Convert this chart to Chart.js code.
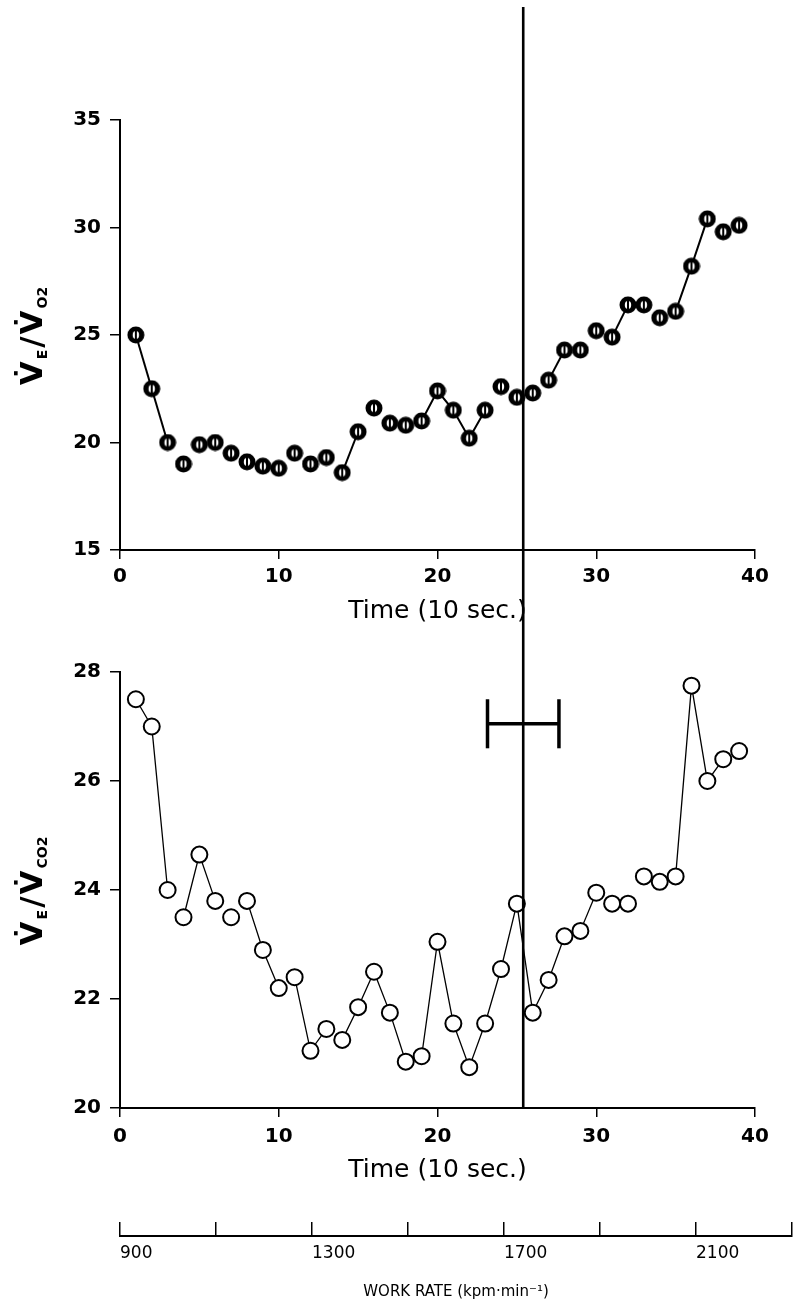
<!DOCTYPE html>
<html>
<head>
<meta charset="utf-8">
<title>VE/VO2 and VE/VCO2</title>
<script src="https://cdn.jsdelivr.net/npm/chart.js@4.4.1/dist/chart.umd.min.js"></script>
<style>
  body { margin: 0; background: #fff; }
  canvas { position: absolute; left: 0; }
  #o2 { top: 0; }
  #co2 { top: 640px; }
  #work { top: 1195px; }
</style>
</head>
<body>
<canvas id="o2" width="799" height="640"></canvas>
<canvas id="co2" width="799" height="560"></canvas>
<canvas id="work" width="799" height="109"></canvas>
<script>
// time in 10 s steps
var times = [1, 2, 3, 4, 5, 6, 7, 8, 9, 10, 11, 12, 13, 14, 15, 16, 17, 18, 19, 20,
             21, 22, 23, 24, 25, 26, 27, 28, 29, 30, 31, 32, 33, 34, 35, 36, 37, 38, 39];

var veVo2 = [25.0, 22.5, 20.0, 19.0, 19.9, 20.0, 19.5, 19.1, 18.9, 18.8,
             19.5, 19.0, 19.3, 18.6, 20.5, 21.6, 20.9, 20.8, 21.0, 22.4,
             21.5, 20.2, 21.5, 22.6, 22.1, 22.3, 22.9, 24.3, 24.3, 25.2,
             24.9, 26.4, 26.4, 25.8, 26.1, 28.2, 30.4, 29.8, 30.1];

var veVco2 = [27.5, 27.0, 24.0, 23.5, 24.65, 23.8, 23.5, 23.8, 22.9, 22.2,
              22.4, 21.05, 21.45, 21.25, 21.85, 22.5, 21.75, 20.85, 20.95, 23.05,
              21.55, 20.75, 21.55, 22.55, 23.75, 21.75, 22.35, 23.15, 23.25, 23.95,
              23.75, 23.75, 24.25, 24.15, 24.25, 27.75, 26.0, 26.4, 26.55];

// which consecutive points are joined by a line (time of first point)
var vo2Joined = [1, 2, 14, 19, 20, 21, 22, 27, 31, 35, 36];
var vco2Gaps = [3, 6, 7, 10, 13, 18, 28, 30, 31, 32, 33, 34, 38];

// threshold and its spread
var thresholdTime = 25.4;
var thresholdSpread = 2.25;
var spreadLevel = 27.05;
var spreadCap = 0.45;

var vo2Ticks = [15, 20, 25, 30, 35];
var vco2Ticks = [20, 22, 24, 26, 28];
var timeTicks = [0, 10, 20, 30, 40];
var workTicks = [900, 1100, 1300, 1500, 1700, 1900, 2100, 2300];
var workLabels = [900, 1300, 1700, 2100];

var tickFont = { family: '"DejaVu Sans"', size: 20, weight: 'bold' };
var titleFont = { family: '"DejaVu Sans"', size: 25 };

function points(vals) {
  return vals.map(function (v, i) { return { x: times[i], y: v }; });
}

function o2Marker() {
  var c = document.createElement('canvas');
  c.width = 18; c.height = 18;
  var g = c.getContext('2d');
  g.fillStyle = '#000';
  g.beginPath(); g.arc(9, 9, 8.5, 0, 2 * Math.PI); g.fill();
  g.fillStyle = '#fff';
  g.beginPath(); g.ellipse(9, 9, 3.2, 4, 0, 0, 2 * Math.PI); g.fill();
  g.fillStyle = '#000';
  g.fillRect(8, 4, 2, 10);
  return c;
}

// vertical threshold line, drawn through both panels
var thresholdLine = {
  id: 'thresholdLine',
  afterDatasetsDraw: function (chart, args, opts) {
    var x = chart.scales.x.getPixelForValue(thresholdTime);
    var g = chart.ctx;
    g.save();
    g.strokeStyle = '#000';
    g.lineWidth = 2.6;
    g.beginPath();
    g.moveTo(x, opts.top);
    g.lineTo(x, opts.toArea ? chart.chartArea.bottom : chart.height);
    g.stroke();
    g.restore();
  }
};

// rotated y title with subscripts
var ratioTitle = {
  id: 'ratioTitle',
  afterDraw: function (chart, args, opts) {
    var a = chart.chartArea, g = chart.ctx;
    var big = 'bold 31px "DejaVu Sans"', small = 'bold 14px "DejaVu Sans"';
    var parts = [['V\u0307', big, 0], ['E', small, 5], ['/', big, 0], ['V\u0307', big, 0], [opts.sub, small, 5]];
    g.save();
    g.translate(opts.x, (a.top + a.bottom) / 2);
    g.rotate(-Math.PI / 2);
    g.fillStyle = '#000';
    g.textBaseline = 'alphabetic';
    var total = 0;
    parts.forEach(function (p) { g.font = p[1]; total += g.measureText(p[0]).width + 2; });
    var pos = -total / 2;
    parts.forEach(function (p) {
      g.font = p[1];
      g.fillText(p[0], pos, p[2]);
      pos += g.measureText(p[0]).width + 2;
    });
    g.restore();
  }
};

function keepTicks(list) {
  return function (scale) {
    scale.ticks = list.map(function (v) { return { value: v }; });
  };
}

function timeAxis(height, labelPad, titlePad) {
  return {
    type: 'linear', min: 0, max: 40,
    afterBuildTicks: keepTicks(timeTicks),
    afterFit: function (s) { s.height = height; },
    grid: { drawOnChartArea: false, tickLength: 9, color: '#000', lineWidth: 1.5 },
    border: { color: '#000', width: 2 },
    ticks: { color: '#000', font: tickFont, padding: labelPad, maxRotation: 0, autoSkip: false },
    title: { display: true, text: 'Time (10 sec.)', color: '#000', font: titleFont, padding: { top: 0, bottom: titlePad } }
  };
}

function ratioAxis(min, max, list) {
  return {
    min: min, max: max,
    afterBuildTicks: keepTicks(list),
    afterFit: function (s) { s.width = 120; },
    grid: { drawOnChartArea: false, tickLength: 10, color: '#000', lineWidth: 1.5 },
    border: { color: '#000', width: 2 },
    ticks: { color: '#000', font: tickFont, padding: 9 }
  };
}

var common = {
  responsive: false,
  animation: false,
  events: [],
  plugins: { legend: { display: false }, tooltip: { enabled: false } }
};

new Chart(document.getElementById('o2'), {
  type: 'line',
  data: {
    datasets: [{
      data: points(veVo2),
      borderColor: '#000',
      borderWidth: 2,
      pointStyle: o2Marker(),
      segment: {
        borderColor: function (ctx) {
          return vo2Joined.indexOf(times[ctx.p0DataIndex]) >= 0 ? '#000' : 'rgba(0,0,0,0)';
        }
      }
    }]
  },
  options: Object.assign({}, common, {
    layout: { padding: { top: 120, right: 44, left: 0, bottom: 0 } },
    scales: { x: timeAxis(90, 6, 14), y: ratioAxis(15, 35, vo2Ticks) },
    plugins: Object.assign({}, common.plugins, {
      thresholdLine: { top: 7, toArea: false },
      ratioTitle: { x: 42, sub: 'O2' }
    })
  }),
  plugins: [thresholdLine, ratioTitle]
});

new Chart(document.getElementById('co2'), {
  type: 'line',
  data: {
    datasets: [{
      data: points(veVco2),
      borderColor: '#000',
      borderWidth: 1.3,
      pointRadius: 8,
      pointBorderWidth: 2,
      pointBorderColor: '#000',
      pointBackgroundColor: '#fff',
      segment: {
        borderColor: function (ctx) {
          return vco2Gaps.indexOf(times[ctx.p0DataIndex]) >= 0 ? 'rgba(0,0,0,0)' : '#000';
        }
      }
    }, {
      data: [{ x: thresholdTime - thresholdSpread, y: spreadLevel }, { x: thresholdTime + thresholdSpread, y: spreadLevel }],
      borderColor: '#000', borderWidth: 3.5, pointRadius: 0
    }, {
      data: [{ x: thresholdTime - thresholdSpread, y: spreadLevel - spreadCap }, { x: thresholdTime - thresholdSpread, y: spreadLevel + spreadCap }],
      borderColor: '#000', borderWidth: 3.5, pointRadius: 0
    }, {
      data: [{ x: thresholdTime + thresholdSpread, y: spreadLevel - spreadCap }, { x: thresholdTime + thresholdSpread, y: spreadLevel + spreadCap }],
      borderColor: '#000', borderWidth: 3.5, pointRadius: 0
    }]
  },
  options: Object.assign({}, common, {
    layout: { padding: { top: 32, right: 44, left: 0, bottom: 0 } },
    scales: { x: timeAxis(92, 8, 15), y: ratioAxis(20, 28, vco2Ticks) },
    plugins: Object.assign({}, common.plugins, {
      thresholdLine: { top: 0, toArea: true },
      ratioTitle: { x: 42, sub: 'CO2' }
    })
  }),
  plugins: [thresholdLine, ratioTitle]
});

// work rate axis: a bare scale whose grid lines are the upward ticks
new Chart(document.getElementById('work'), {
  type: 'line',
  data: { datasets: [] },
  options: Object.assign({}, common, {
    layout: { padding: { top: 27, right: 4, left: 120, bottom: 0 } },
    scales: {
      x: {
        type: 'linear', min: 900, max: 2300,
        afterBuildTicks: keepTicks(workTicks),
        afterFit: function (s) { s.height = 68; },
        grid: { drawOnChartArea: true, drawTicks: false, color: '#000', lineWidth: 1.5 },
        border: { color: '#000', width: 2 },
        ticks: {
          color: '#000', align: 'start', padding: 7, maxRotation: 0, autoSkip: false,
          font: { family: '"Liberation Sans Narrow", "DejaVu Sans"', size: 17 },
          callback: function (v) { return workLabels.indexOf(v) >= 0 ? String(v) : ''; }
        },
        title: {
          display: true, text: 'WORK RATE (kpm\u00b7min\u207b\u00b9)', color: '#000',
          font: { family: '"DejaVu Sans"', size: 15 }, padding: { top: 0, bottom: 3 }
        }
      },
      y: { display: false, min: 0, max: 1 }
    }
  })
});
</script>
</body>
</html>
